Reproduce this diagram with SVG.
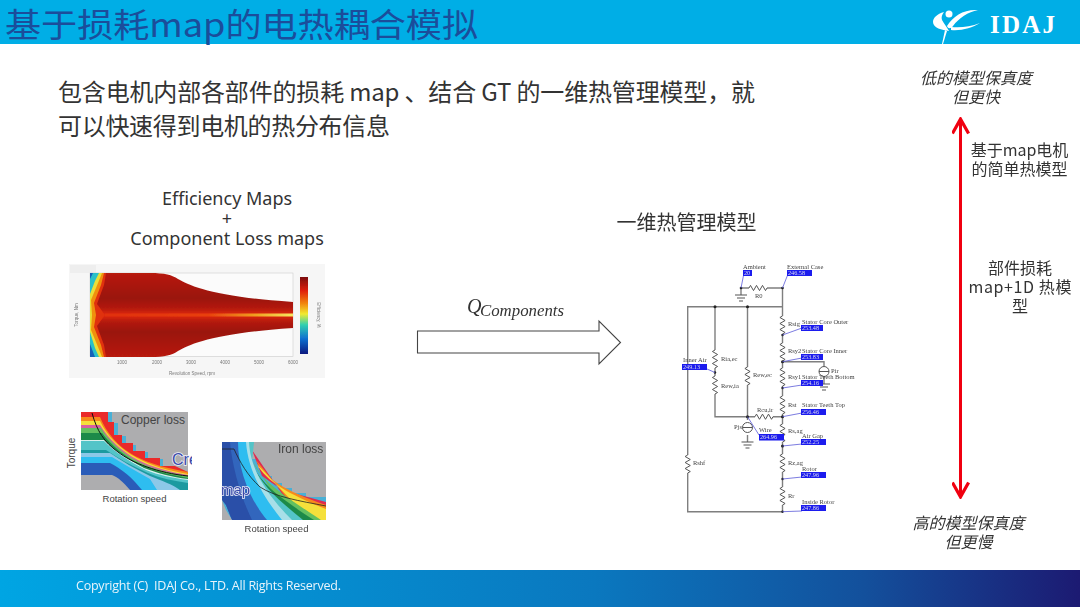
<svg xmlns="http://www.w3.org/2000/svg" width="1080" height="607" viewBox="0 0 1080 607">
<style>
text{font-family:"Noto Sans CJK SC","Noto Sans",sans-serif}
.i{font-style:italic}
.c{text-anchor:middle}
.w{fill:none;stroke:#7f7f7f;stroke-width:1.4}
.r{fill:none;stroke:#555;stroke-width:1}
.n{font-family:"Liberation Serif",serif;font-size:6.5px;fill:#444}
.b{fill:#1a1aee}
.v{font-family:"Liberation Serif",serif;font-size:6.2px;fill:#dde}
.l{stroke:#5a5ad8;stroke-width:.8;fill:none}
.d{fill:#222}
.lb{font-family:"Liberation Sans",sans-serif;fill:#444}
.ov{font-family:"Liberation Sans",sans-serif;fill:#3a4aaa;stroke:#f2f2fa;stroke-width:1.500;paint-order:stroke}
</style>
<defs>
<linearGradient id="foot" x1="0" x2="1" y1="0" y2="0"><stop offset="0" stop-color="#00a5e3"/><stop offset=".55" stop-color="#0a78bf"/><stop offset=".8" stop-color="#13509c"/><stop offset="1" stop-color="#1c1a72"/></linearGradient>
<linearGradient id="body" x1="0" x2="0" y1="0" y2="1"><stop offset="0" stop-color="#b81a0e"/><stop offset=".3" stop-color="#9a120b"/><stop offset=".42" stop-color="#b41a0d"/><stop offset=".5" stop-color="#e0280f"/><stop offset=".58" stop-color="#b41a0d"/><stop offset=".7" stop-color="#9a120b"/><stop offset="1" stop-color="#b81a0e"/></linearGradient>
<linearGradient id="cb" x1="0" x2="0" y1="0" y2="1"><stop offset="0" stop-color="#7a0d0a"/><stop offset=".18" stop-color="#e02010"/><stop offset=".35" stop-color="#f28a10"/><stop offset=".48" stop-color="#f2ea30"/><stop offset=".62" stop-color="#30d0b0"/><stop offset=".8" stop-color="#1070d0"/><stop offset="1" stop-color="#0a1a80"/></linearGradient>
<linearGradient id="map" x1="0" x2="1" y1="0" y2="0"><stop offset="0" stop-color="#e03010"/><stop offset=".55" stop-color="#e8400f"/><stop offset=".8" stop-color="#f0a020"/><stop offset="1" stop-color="#f6e860"/></linearGradient>
<filter id="s1" x="-5%" y="-5%" width="110%" height="110%"><feGaussianBlur stdDeviation=".6"/></filter>
<filter id="s3" x="-5%" y="-5%" width="110%" height="110%"><feGaussianBlur stdDeviation=".4"/></filter>
<clipPath id="cc"><rect x="81" y="412" width="111" height="78"/></clipPath>
<marker id="red" viewBox="0 0 10 10" refX="8.500" refY="5" markerWidth="6" markerHeight="6" orient="auto-start-reverse"><path d="M1 0.500L9 5L1 9.500" fill="none" stroke="#f00010" stroke-width="1.800"/></marker>
<g id="res"><path d="M0 0l-2.600 1.500 5.200 3-5.200 3 5.200 3-5.200 3 5.200 3-2.600 1.500" class="r"/></g>
<g id="resh"><path d="M0 0l1.500-2.600 3 5.200 3-5.200 3 5.200 3-5.200 3 5.200 1.500-2.600" class="r"/></g>
<g id="gnd"><path d="M-6 0h12M-4 3h8M-2 6h4" class="r"/></g>
</defs>

<rect width="1080" height="607" fill="#fff"/>
<g id="header">
<rect width="1080" height="44" fill="#00aee6"/>
<text x="5" y="37" font-size="33" fill="#1b4d9b" textLength="473" lengthAdjust="spacingAndGlyphs">基于损耗map的电热耦合模拟</text>
<g id="logo" fill="#fff">
<path d="M933 22c0-4 4-8 11-10-2 3-3 5-2 8 2 4 5 7 7 11-7-1-16-3-16-9z"/>
<circle cx="949" cy="14" r="3.500"/>
<path d="M947 26c6-10 17-17 31-16-10 2-19 8-25 16-2 3-5 3-6 0z"/>
<path d="M951 27c9 1 19 0 29-4-8 5-19 8-29 7z"/>
<path d="M945 30l2 1-4 13-1 0z"/>
<text x="990" y="33" font-size="25" font-weight="700" style="font-family:'Liberation Serif',serif" textLength="65" lengthAdjust="spacing">IDAJ</text>
</g>
</g>

<g id="intro" font-size="24" fill="#333">
<text x="58" y="101" textLength="697" lengthAdjust="spacing">包含电机内部各部件的损耗 map 、结合 GT 的一维热管理模型&#xFF0C;就</text>
<text x="58" y="135" textLength="332" lengthAdjust="spacing">可以快速得到电机的热分布信息</text>
</g>

<g id="maps-label" font-size="18" class="c" fill="#333">
<text x="227" y="205" style="font-family:'Noto Sans',sans-serif">Efficiency Maps</text>
<text x="227" y="225" style="font-family:'Noto Sans',sans-serif">+</text>
<text x="227" y="245" style="font-family:'Noto Sans',sans-serif">Component Loss maps</text>
</g>

<g id="efficiency-map">
<rect x="69" y="264" width="256" height="114" fill="#f6f6f6" filter="url(#s1)"/>
<rect x="70" y="265" width="26" height="8" fill="#eeeeee" filter="url(#s1)"/>
<rect x="90" y="273" width="203" height="83.500" fill="#fbfbfb" stroke="#ccc" stroke-width=".6" filter="url(#s3)"/>
<g filter="url(#s1)">
<path d="M90 273H150C165 273 172 275 178 279 190 286 215 297 293 302V328C215 333 190 344 178 351 172 355 165 357 150 357H90Z" fill="url(#body)"/>
<path d="M105 313.500H293V316.500H105Z" fill="url(#map)"/>
<path d="M90 273H106L104 285 97 304 105 315 97 326 104 345 106 357H90Z" fill="#e0300f"/>
<path d="M90 273H104L101 285 94 303 96 315 94 327 101 345 104 357H90Z" fill="#f09010"/>
<path d="M90 273H102L98 283 91 300 92 315 91 330 98 347 102 357H90Z" fill="#eadf38"/>
<path d="M90 273H99L95 281 90 294ZM90 332L95 348 99 357H90Z" fill="#2cc0c8"/>
<path d="M90 344L95 357H90ZM90 273H93L90 279Z" fill="#1560b8"/>
</g>
<rect x="300" y="277" width="8" height="77" fill="url(#cb)" filter="url(#s1)"/>
<g font-size="4.500" fill="#777" filter="url(#s3)">
<text x="192" y="375" class="c" style="font-family:'Liberation Sans',sans-serif">Revolution Speed, rpm</text>
<text x="122" y="364" class="c" style="font-family:'Liberation Sans',sans-serif">1000</text><text x="157" y="364" class="c" style="font-family:'Liberation Sans',sans-serif">2000</text><text x="191" y="364" class="c" style="font-family:'Liberation Sans',sans-serif">3000</text><text x="225" y="364" class="c" style="font-family:'Liberation Sans',sans-serif">4000</text><text x="259" y="364" class="c" style="font-family:'Liberation Sans',sans-serif">5000</text><text x="293" y="364" class="c" style="font-family:'Liberation Sans',sans-serif">6000</text>
<text transform="translate(78 315) rotate(-90)" class="c" style="font-family:'Liberation Sans',sans-serif">Torque, Nm</text>
<text transform="translate(317 315) rotate(90)" class="c" style="font-family:'Liberation Sans',sans-serif">Efficiency, %</text>
</g>
</g>

<g id="copper-loss">
<g filter="url(#s1)">
<rect x="81" y="412" width="107" height="78" fill="#adadaf"/>
<path d="M81 412H112V423H118V436H126V445H136V452H148V459H163V467H178V472H188V490H81Z" fill="#4ab0d6"/>
<path d="M81 412H108V422H114V435H122V443H133V451H145V458H160V466H175L188 472V490H81Z" fill="#ea2a2a"/>
<path d="M81 417H100C106 432 118 447 135 456 150 464 170 469 188 472V490H81Z" fill="#f78a1e"/>
<path d="M81 421H100C107 436 120 449 137 458 152 466 170 471 188 474V490H81Z" fill="#f5e03a"/>
<path d="M81 425H100C108 438 121 451 138 460 152 467 170 472 188 475V490H81Z" fill="#d860a0"/>
<path d="M81 428H101C109 441 122 453 139 462 153 469 170 473 188 476V490H81Z" fill="#63c060"/>
<path d="M81 433H102C111 445 124 456 141 465 155 471 171 475 188 478V490H81Z" fill="#1f8a4a"/>
<path d="M81 440H104C113 449 127 459 144 468 157 473 172 477 188 479V490H81Z" fill="#d8f0ee"/>
<path d="M81 441H104C114 451 128 461 146 470 158 475 173 478 188 480V490H81Z" fill="#52c4c8"/>
<path d="M81 450H106C118 458 132 466 148 473 160 478 174 481 188 483V490H81Z" fill="#1f9aa0"/>
<path d="M81 453H110C122 461 135 469 150 476 162 481 172 484 180 490H81Z" fill="#8cc8e8"/>
<path d="M81 457H112C124 464 137 472 150 479L157 490H81Z" fill="#2dbdf0"/>
<path d="M81 463H110C120 468 130 476 135 482L142 490H81Z" fill="#2a5cb8"/>
<path d="M81 475H112C118 477 124 483 130 490H81Z" fill="#adadaf"/>
<path d="M92 413C97 431 104 442 118 452 132 463 158 473 188 476" fill="none" stroke="#111" stroke-width="1"/>
</g>
<text x="121" y="423.500" font-size="12" class="lb" style="font-family:'Liberation Sans',sans-serif">Copper loss</text>
<text x="172" y="465" font-size="16" class="ov" clip-path="url(#cc)" style="font-family:'Liberation Sans',sans-serif">Cre</text>
<text transform="translate(75 453) rotate(-90)" class="lb c" font-size="10" style="font-family:'Liberation Sans',sans-serif">Torque</text>
<text x="134.500" y="502" class="lb c" font-size="9.500" style="font-family:'Liberation Sans',sans-serif">Rotation speed</text>
</g>

<g id="iron-loss">
<g filter="url(#s1)">
<rect x="222" y="442" width="104" height="78" fill="#adadaf"/>
<path d="M222 442H252V459H258V468H264V476H272V483H282V488H292V493H306V497H326V520H222Z" fill="#4ab0d6"/>
<path d="M252 450L262 476 282 490 326 502V520H300Z" fill="#e02a50"/>
<path d="M256 460C264 478 285 491 326 505V520H305Z" fill="#f78a1e"/>
<path d="M257 464C266 481 288 494 326 509V520H310Z" fill="#f5e03a"/>
<path d="M253 462C262 482 285 496 321 520H310L275 496Z" fill="#63c060"/>
<path d="M251 462C260 484 283 500 314 520H296L268 497Z" fill="#1f8a4a"/>
<path d="M244 442H254L252 462C260 484 276 498 303 520H290L258 490Z" fill="#52c4c8"/>
<path d="M238 442H249C250 465 262 490 292 520H272L245 490Z" fill="#a8dfe8"/>
<path d="M236 442H246C248 470 262 495 282 520H264L240 485Z" fill="#2dbdf0"/>
<path d="M222 442H238C238 470 250 500 267 520H232L226 505 222 500Z" fill="#3266bd"/>
<path d="M222 442H230C232 465 240 495 252 520H232L226 505 222 500Z" fill="#2a50a8"/>
<path d="M222 500L226 510 232 520H222Z" fill="#adadaf"/>
<path d="M222 449H234C240 462 247 475 260 487 275 497 300 501 326 506" fill="none" stroke="#222" stroke-width=".8"/>
</g>
<text x="278" y="453" font-size="12" class="lb" style="font-family:'Liberation Sans',sans-serif">Iron loss</text>
<text x="221" y="495" font-size="15" class="ov" style="font-family:'Liberation Sans',sans-serif">map</text>
<text x="276.500" y="532" class="lb c" font-size="9.500" style="font-family:'Liberation Sans',sans-serif">Rotation speed</text>
</g>

<g id="q-arrow">
<text x="467" y="313" font-size="20" fill="#333" style="font-family:'Liberation Serif',serif;font-style:italic">Q</text>
<text x="480" y="316" font-size="16" fill="#333" style="font-family:'Liberation Serif',serif;font-style:italic" textLength="84" lengthAdjust="spacingAndGlyphs">Components</text>
<path d="M417.500 331H599V321L620.500 342.500 599 364V353H417.500Z" fill="#fff" stroke="#444" stroke-width="1.100"/>
</g>

<g id="model-title"><text x="686.500" y="230" font-size="20" class="c" fill="#333">一维热管理模型</text></g>

<g id="circuit" filter="url(#s3)">
<g id="wires">
<path class="w" d="M741 288H749M767 288H782.500V316M782.500 306.700H687.700V455M687.700 473V511.700H782.500M715 306.700V350M715 368V376M715 394V416.700H755M773 416.700H782.500M747.500 306.700V367M747.500 385V420M782.500 334V343M782.500 361V368M782.500 386V396M782.500 414V424M782.500 442V454M782.500 472V487M782.500 505V511.700M782.500 361.700H824V366M824 377V384M747.500 435V442M741 288V295"/>
</g>
<use href="#resh" x="749" y="288"/>
<use href="#res" x="782.500" y="316"/><use href="#res" x="782.500" y="343"/><use href="#res" x="782.500" y="368"/><use href="#res" x="782.500" y="396"/><use href="#res" x="782.500" y="424"/><use href="#res" x="782.500" y="454"/><use href="#res" x="782.500" y="487"/>
<use href="#res" x="715" y="350"/><use href="#res" x="715" y="376"/><use href="#res" x="747.500" y="367"/><use href="#res" x="687.700" y="455"/>
<use href="#resh" x="755" y="416.700"/>
<use href="#gnd" x="741" y="295"/><use href="#gnd" x="824" y="384"/><use href="#gnd" x="747.500" y="442"/>
<circle cx="747.500" cy="427.500" r="5" fill="#fff" stroke="#555"/><path d="M742.500 427.500h10" class="r"/>
<circle cx="824" cy="371.500" r="5" fill="#fff" stroke="#555"/><path d="M819 371.500h10" class="r"/>
<g class="d"><circle cx="741" cy="288" r="1.300"/><circle cx="782.500" cy="288" r="1.300"/><circle cx="715" cy="306.700" r="1.500"/><circle cx="747.500" cy="306.700" r="1.500"/><circle cx="782.500" cy="335" r="1.200"/><circle cx="782.500" cy="361.700" r="1.500"/><circle cx="715" cy="372.500" r="1.200"/><circle cx="782.500" cy="388" r="1.200"/><circle cx="747.500" cy="416.700" r="1.500"/><circle cx="782.500" cy="416.700" r="1.500"/><circle cx="782.500" cy="446" r="1.500"/><circle cx="782.500" cy="479" r="1.200"/><circle cx="782.500" cy="511.700" r="1.200"/></g>
<path class="l" d="M741 288L744 273M782.500 288L788 274M782.500 335L802 328M782.500 361.700L802 358M715 372.500L707 369M782.500 388L802 385M782.500 416.700L802 413M747.500 416.700L759 435M782.500 446L802 444M782.500 479L802 477M782.500 511.700L802 511"/>
<g class="b"><rect x="743" y="270" width="9" height="6"/><rect x="787" y="270" width="25" height="6"/><rect x="801" y="325" width="22" height="6"/><rect x="801" y="354" width="22" height="6"/><rect x="682" y="364" width="25" height="6"/><rect x="801" y="380" width="22" height="6"/><rect x="801" y="409" width="25" height="6"/><rect x="759" y="434" width="25" height="6.500"/><rect x="801" y="439" width="25" height="6"/><rect x="801" y="472" width="25" height="6"/><rect x="801" y="505" width="25" height="6"/></g>
<text class="n" x="743" y="269">Ambient</text><text class="v" x="744" y="275">20</text>
<text class="n" x="787" y="269">External Case</text><text class="v" x="788" y="275">246.58</text>
<text class="n" x="755" y="298">R0</text>
<text class="n" x="788" y="326">Rsig</text><text class="n" x="802" y="324">Stator Core Outer</text><text class="v" x="802" y="330">253.48</text>
<text class="n" x="788" y="353">Rsy2</text><text class="n" x="802" y="353">Stator Core Inner</text><text class="v" x="802" y="359">253.83</text>
<text class="n" x="683" y="362">Inner Air</text><text class="v" x="683" y="369">249.13</text>
<text class="n" x="721" y="361">Ria,ec</text><text class="n" x="721" y="388">Rew,ia</text><text class="n" x="753" y="377">Rew,ec</text>
<text class="n" x="831" y="373">Pir</text>
<text class="n" x="788" y="379">Rsy1</text><text class="n" x="802" y="379">Stator Teeth Bottom</text><text class="v" x="802" y="385">254.16</text>
<text class="n" x="788" y="407">Rst</text><text class="n" x="802" y="407">Stator Teeth Top</text><text class="v" x="802" y="414">256.46</text>
<text class="n" x="757" y="412">Rcu,ir</text><text class="n" x="734" y="429">Pjs</text>
<text class="n" x="759" y="432">Wire</text><text class="v" x="760" y="439">264.96</text>
<text class="n" x="788" y="433">Rs,ag</text><text class="n" x="802" y="438">Air Gap</text><text class="v" x="802" y="444">252.25</text>
<text class="n" x="788" y="465">Rz,ag</text><text class="n" x="802" y="471">Rotor</text><text class="v" x="802" y="477">247.96</text>
<text class="n" x="693" y="465">Rshf</text>
<text class="n" x="788" y="498">Rr</text><text class="n" x="802" y="504">Inside Rotor</text><text class="v" x="802" y="510">247.86</text>
</g>

<g id="fidelity-axis">
<line x1="960.500" y1="120" x2="960.500" y2="496" stroke="#f00010" stroke-width="3" marker-start="url(#red)" marker-end="url(#red)"/>
</g>
<g id="fidelity-top" font-size="16" class="i c" fill="#333"><text x="976" y="84">低的模型保真度</text><text x="976" y="103">但更快</text></g>
<g id="simple-model" font-size="16" class="c" fill="#333"><text x="1019.500" y="156">基于map电机</text><text x="1019.500" y="175">的简单热模型</text></g>
<g id="component-model" font-size="16" class="c" fill="#333"><text x="1020" y="274">部件损耗</text><text x="1020" y="293" textLength="103" lengthAdjust="spacing">map+1D 热模</text><text x="1020" y="312">型</text></g>
<g id="fidelity-bottom" font-size="16" class="i c" fill="#333"><text x="968.500" y="529">高的模型保真度</text><text x="968.500" y="548">但更慢</text></g>

<g id="footer">
<rect y="570" width="1080" height="37" fill="url(#foot)"/>
<text x="76" y="590" font-size="12.500" fill="#e8f4fb" style="font-family:'Open Sans',sans-serif;white-space:pre" textLength="265">Copyright (C)  IDAJ Co., LTD. All Rights Reserved.</text>
</g>
</svg>
